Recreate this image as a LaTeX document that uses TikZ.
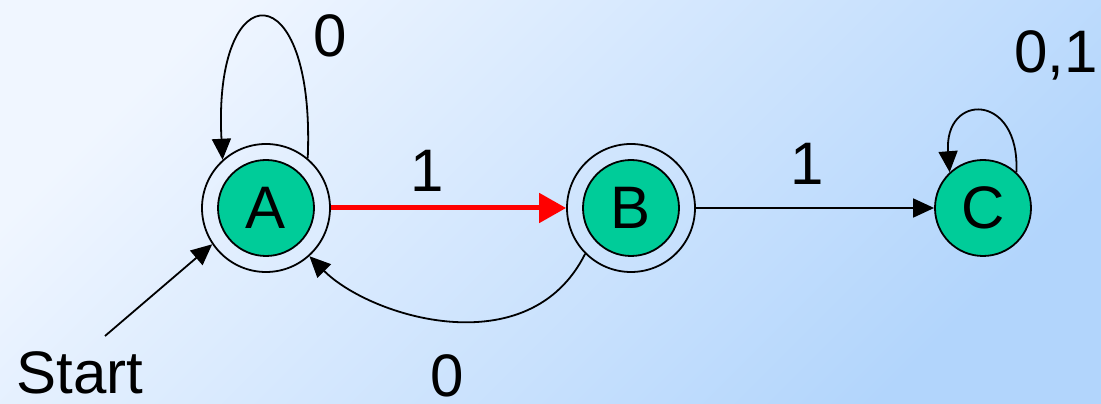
\documentclass[tikz,border=0pt]{standalone}
\usepackage{fontspec}
\setmainfont{Liberation Sans}
\usetikzlibrary{arrows.meta}
\begin{document}
\begin{tikzpicture}[x=1pt,y=1pt,
  state/.style={circle,draw,line width=1.8pt,fill=color0,minimum size=96pt,inner sep=0pt,font=\fontsize{60}{72}\selectfont},
  ring/.style={circle,draw,line width=1.8pt,minimum size=128pt,inner sep=0pt},
  lbl/.style={anchor=base,inner sep=0pt,font=\fontsize{60}{72}\selectfont},
  edge/.style={line width=1.8pt,-{Triangle[length=21pt,width=19pt]}},
  hot/.style={color1,line width=5pt,-{Triangle[length=27pt,width=29pt]}}]
\definecolor{color0}{HTML}{00CC99}
\definecolor{color1}{HTML}{FF0000}
\definecolor{color2}{HTML}{F0F6FF}
\definecolor{color3}{HTML}{B2D5FC}
\useasboundingbox (0,0) rectangle (1101,404);
\shade[top color=color2,bottom color=color3,shading angle=45] (0,0) rectangle (1101,404);
\node[state] (a) at (266,196) {A};
\node[ring] (A) at (a) {};
\node[state] (b) at (631,196) {B};
\node[ring] (B) at (b) {};
\node[state] (C) at (983,196) {C};
\coordinate (s) at (105,68);
\draw[hot] (A) -- (B);
\draw[edge] (B) -- (C);
\draw[edge] (A.50) .. controls +(8,188) and +(-10,188) .. (A.132);
\draw[edge] (B.225) .. controls +(-56,-112) and +(61,-61) .. (A.-48);
\draw[edge] (C.47) .. controls +(4,80) and +(-6,80) .. (C.133);
\draw[edge] (s) -- (A.214);
\node[lbl] (l0) at (330,347) {0};
\node[lbl] (l1) at (427,212) {1};
\node[lbl] (l2) at (807,219) {1};
\node[lbl] (l3) at (1056,331) {0,1};
\node[lbl] (l4) at (447,7) {0};
\node[lbl] (st) at (80,10) {Start};
\end{tikzpicture}
\end{document}
